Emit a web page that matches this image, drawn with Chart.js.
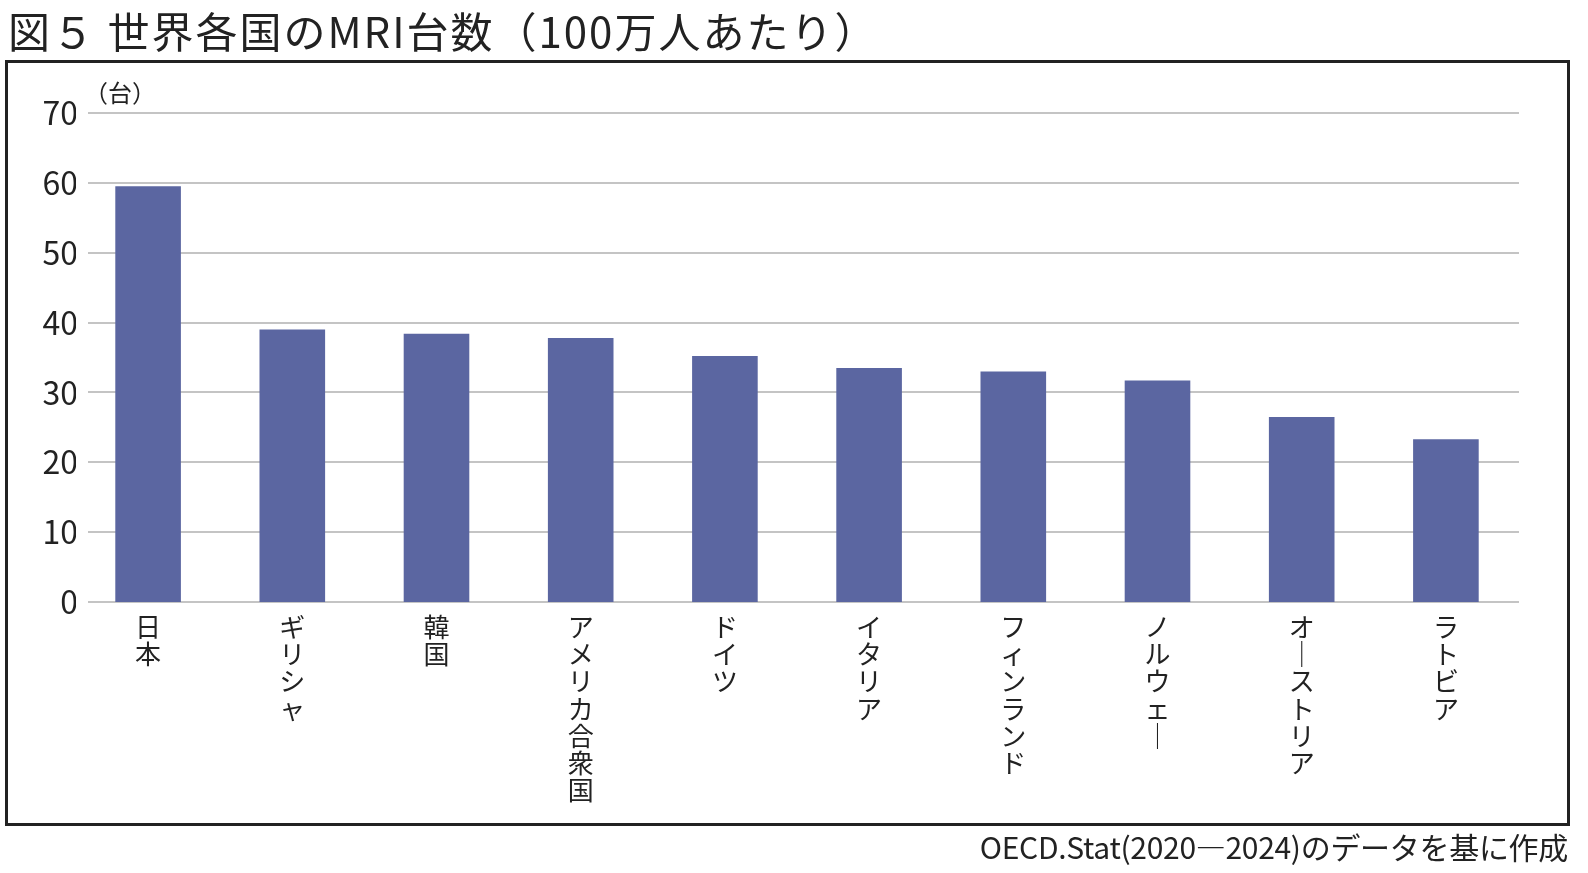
<!DOCTYPE html>
<html lang="ja">
<head>
<meta charset="utf-8">
<script src="https://cdn.jsdelivr.net/npm/chart.js@4.4.1/dist/chart.umd.min.js"></script>
<style>
  html, body { margin: 0; padding: 0; background: #fff; }
  body { width: 1588px; height: 873px; position: relative; overflow: hidden;
         font-family: "Noto Sans CJK JP", "Noto Sans", sans-serif; color: #222; }
  #title { position: absolute; left: 8px; top: -1px; font-size: 42px; white-space: nowrap; letter-spacing: 2px; }
  #frame { position: absolute; left: 5px; top: 60px; width: 1559px; height: 760px;
           border: 3px solid #222; pointer-events: none; }
  #unit { position: absolute; left: 84px; top: 74px; font-size: 24px; }
  #source { position: absolute; right: 20px; top: 824px; font-size: 30px; white-space: nowrap; letter-spacing: -0.3px; }
  #wrap { position: absolute; left: 0; top: 0; width: 1588px; height: 873px; }
</style>
</head>
<body>
<div id="wrap"><canvas id="myChart" width="1588" height="873"></canvas></div>
<div id="frame"></div>
<div id="title">図５ 世界各国のMRI台数（100万人あたり）</div>
<div id="unit">（台）</div>
<div id="source">OECD.Stat(2020—2024)のデータを基に作成</div>
<script>
const countries = ['日本', 'ギリシャ', '韓国', 'アメリカ合衆国', 'ドイツ', 'イタリア', 'フィンランド', 'ノルウェー', 'オーストリア', 'ラトビア']
const mriPerMillion = [59.5, 39.0, 38.4, 37.8, 35.2, 33.5, 33.0, 31.7, 26.5, 23.3]
const yTicks = [0, 10, 20, 30, 40, 50, 60, 70]

const BAR_COLOR = '#5b66a1'
const GRID_COLOR = '#c4c4c4'
const FONT = '"Noto Sans CJK JP", "Noto Sans", sans-serif'

// stack the characters so the names read top to bottom, long vowel turned upright
function verticalLabel(name) {
  return Array.from(name).map(ch => ch == 'ー' ? '｜' : ch)
}

// grid lines start a little right of the first category, as in the print
const gridPlugin = {
  id: 'gridFromLeft',
  beforeDatasetsDraw(chart) {
    let ctx = chart.ctx
    let y = chart.scales.y
    ctx.save()
    ctx.strokeStyle = GRID_COLOR
    ctx.lineWidth = 2
    for (let i = 0; i < yTicks.length; i++) {
      let py = Math.round(y.getPixelForValue(yTicks[i]))
      ctx.beginPath()
      ctx.moveTo(88, py)
      ctx.lineTo(chart.chartArea.right + 1, py)
      ctx.stroke()
    }
    ctx.restore()
  }
}

const data = {
  labels: countries.map(verticalLabel),
  datasets: [{
    data: mriPerMillion,
    backgroundColor: BAR_COLOR,
    borderWidth: 0,
    categoryPercentage: 1,
    barPercentage: 0.455
  }]
}

const config = {
  type: 'bar',
  data: data,
  plugins: [gridPlugin],
  options: {
    responsive: false,
    animation: false,
    devicePixelRatio: 1,
    layout: { padding: { top: 113, right: 70, bottom: 0, left: 0 } },
    plugins: {
      legend: { display: false },
      title: { display: false },
      tooltip: { enabled: false }
    },
    scales: {
      x: {
        grid: { display: false, drawTicks: false },
        border: { display: false },
        ticks: {
          color: '#222',
          maxRotation: 0,
          minRotation: 0,
          autoSkip: false,
          padding: 12,
          font: { family: FONT, size: 26, lineHeight: 1.04 }
        },
        afterFit(scale) { scale.height = 271 }
      },
      y: {
        min: 0,
        max: 70,
        afterBuildTicks(scale) { scale.ticks = yTicks.map(v => ({ value: v })) },
        grid: { display: false, drawTicks: false },
        border: { display: false },
        ticks: {
          color: '#222',
          padding: -2,
          font: { family: FONT, size: 32 }
        },
        afterFit(scale) { scale.width = 76 }
      }
    }
  }
}

const myChart = new Chart(document.getElementById('myChart'), config)
</script>
</body>
</html>
